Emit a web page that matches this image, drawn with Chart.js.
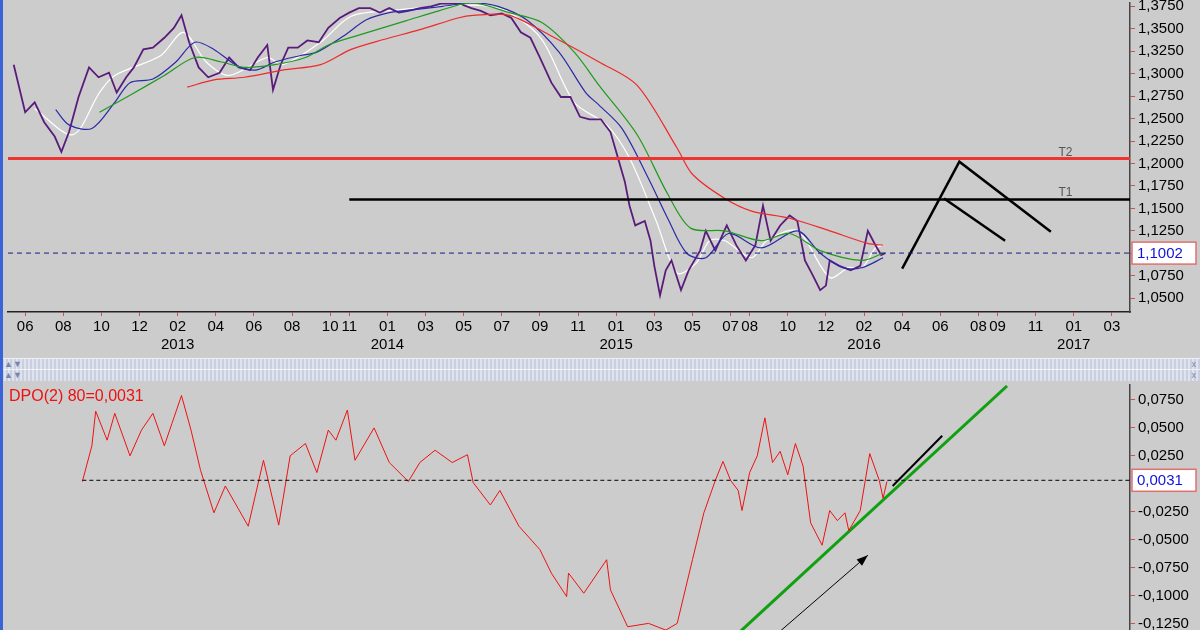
<!DOCTYPE html>
<html>
<head>
<meta charset="utf-8">
<script src="https://cdn.jsdelivr.net/npm/chart.js@4/dist/chart.umd.min.js"></script>
<style>
  body { margin: 0; width: 1200px; height: 630px; overflow: hidden; background: #cccccc; font-family: "Liberation Sans", Arial, sans-serif; position: relative; }
  #top { position: absolute; left: 0; top: -9px; width: 1200px; height: 367px; }
  #bottom { position: absolute; left: 0; top: 373px; width: 1200px; height: 273px; }
  .band { position: absolute; left: 0; width: 1200px; height: 11px; background: repeating-linear-gradient(90deg, #dfe3ee 0 2px, #c9cfe0 2px 4px); border-top: 1px solid #eef0f6; font-size: 9px; color: #7a86a8; line-height: 10px; z-index: 2; }
  .band span { position: absolute; left: 4px; }
  .band b { position: absolute; right: 4px; font-weight: normal; }
  #edge { position: absolute; left: 0; top: 0; width: 3px; height: 630px; background: #3b63d8; z-index: 3; }
</style>
</head>
<body>
<canvas id="top" width="1200" height="367"></canvas>
<canvas id="bottom" width="1200" height="273"></canvas>
<div class="band" style="top:358px"><span>▲▼</span><b>x</b></div>
<div class="band" style="top:369px"><span>▲▼</span><b>x</b></div>
<div id="edge"></div>
<script>
// x values are months counted from Jan 2012 (0 = Jan 2012)
const tickMonths = [5,7,9,11,13,15,17,19,21,22,24,26,28,30,32,34,36,38,40,42,43,45,47,49,51,53,55,56,58,60,62];
const tickLabels = ["06","08","10","12",["02","2013"],"04","06","08","10","11",["01","2014"],"03","05","07","09","11",
  ["01","2015"],"03","05","07","08","10","12",["02","2016"],"04","06","08","09","11",["01","2017"],"03"];
const priceTicks = [1.05,1.075,1.1,1.125,1.15,1.175,1.2,1.225,1.25,1.275,1.3,1.325,1.35,1.375];
const dpoTicks = [-0.125,-0.1,-0.075,-0.05,-0.025,0.025,0.05,0.075];

// EUR/USD closes
const priceM = [4.4,5.0,5.5,6.0,6.55,6.9,7.3,7.8,8.35,8.85,9.4,9.8,10.3,10.7,11.2,11.7,12.3,12.8,13.2,13.6,14.1,14.6,15.2,15.7,16.2,16.8,17.2,17.7,18.0,18.4,18.8,19.3,19.8,20.4,20.9,21.5,22.0,22.5,23.1,23.6,24.1,24.6,25.1,25.7,26.3,26.8,27.3,27.8,28.4,28.9,29.4,30.0,30.5,31.0,31.5,32.0,32.6,33.1,33.6,34.1,34.6,35.2,35.7,36.0,36.45,36.7,37.0,37.5,37.8,38.0,38.3,38.6,38.9,39.4,39.8,40.4,40.7,41.2,41.8,42.3,42.8,43.3,43.7,44.1,44.6,45.1,45.5,45.9,46.3,46.7,47.0,47.2,47.7,48.3,48.8,49.2,49.6,49.9,50.1];
const priceV = [1.310,1.257,1.268,1.246,1.230,1.213,1.235,1.274,1.307,1.296,1.301,1.279,1.296,1.307,1.327,1.329,1.340,1.351,1.365,1.335,1.307,1.296,1.301,1.318,1.307,1.304,1.318,1.332,1.282,1.310,1.329,1.329,1.337,1.335,1.351,1.362,1.368,1.373,1.373,1.368,1.373,1.368,1.370,1.373,1.375,1.378,1.378,1.378,1.373,1.370,1.365,1.367,1.362,1.346,1.340,1.318,1.290,1.274,1.274,1.252,1.249,1.249,1.235,1.213,1.180,1.153,1.131,1.136,1.114,1.086,1.053,1.081,1.092,1.059,1.081,1.103,1.125,1.103,1.131,1.109,1.092,1.109,1.153,1.114,1.131,1.142,1.136,1.092,1.076,1.059,1.064,1.092,1.086,1.081,1.086,1.125,1.109,1.098,1.100];

// moving averages
const whiteM = [5.5,7.5,8.9,9.7,12.1,13.3,14.5,15.7,17.7,18.5,20.5,22.1,24.5,26.9,28.9,30.4,32.1,33.8,35.5,36.7,38.1,39.2,40.2,40.9,41.7,43.1,43.9,45.5,47.2,48.2,48.9,49.6,50.0];
const whiteV = [1.261,1.232,1.279,1.298,1.320,1.346,1.313,1.298,1.318,1.310,1.335,1.364,1.371,1.375,1.376,1.368,1.338,1.268,1.243,1.206,1.136,1.078,1.089,1.114,1.114,1.095,1.114,1.125,1.073,1.084,1.084,1.106,1.109];
const blueM = [6.6,7.3,8.5,9.7,10.5,11.7,12.9,13.9,14.9,16.1,17.1,18.1,19.4,20.3,21.7,22.9,24.1,25.3,26.9,28.5,29.8,31.3,33.0,34.4,35.1,36.3,37.7,38.7,39.7,40.7,41.9,43.6,45.5,46.7,47.9,48.9,50.0];
const blueV = [1.260,1.243,1.239,1.268,1.290,1.294,1.313,1.335,1.327,1.309,1.304,1.313,1.320,1.324,1.342,1.360,1.368,1.371,1.375,1.379,1.375,1.360,1.324,1.279,1.265,1.239,1.183,1.139,1.100,1.095,1.122,1.106,1.125,1.100,1.084,1.084,1.095];
const greenM = [8.9,10.5,12.3,13.9,15.3,16.5,18.1,19.7,20.9,22.5,25.0,26.7,28.4,30.4,32.1,33.8,35.1,37.1,38.7,39.9,41.7,43.6,45.1,46.7,48.9,50.0];
const greenV = [1.257,1.276,1.298,1.318,1.313,1.307,1.310,1.318,1.332,1.343,1.359,1.370,1.379,1.368,1.357,1.324,1.287,1.232,1.166,1.128,1.125,1.114,1.122,1.103,1.092,1.100];
const redM = [13.5,14.9,16.5,18.5,20.5,22.1,23.8,25.7,27.7,28.5,30.4,32.6,35.1,37.1,39.2,40.0,41.7,43.1,45.1,47.2,49.2,50.0];
const redV = [1.285,1.293,1.296,1.304,1.310,1.327,1.338,1.349,1.362,1.365,1.365,1.342,1.313,1.287,1.217,1.188,1.161,1.147,1.139,1.125,1.111,1.109];

// levels and drawn projections
const t2Level = 1.2055;
const t1Level = 1.160;
const lastPrice = 1.1002;
const zigM = [51.0,54.0,58.8];
const zigV = [1.083,1.202,1.124];
const zig2M = [53.2,56.4];
const zig2V = [1.161,1.114];

// DPO(2) 80
const dpoM = [8.0,8.5,8.7,9.3,9.7,10.5,11.1,11.7,12.3,12.7,13.2,13.7,14.2,14.9,15.5,16.1,16.7,17.5,18.3,18.9,19.7,20.3,20.9,21.3,21.9,22.3,23.3,24.1,25.1,25.7,26.5,27.4,28.2,28.5,29.4,29.9,30.9,32.0,32.6,33.4,33.5,34.3,35.5,35.7,36.6,37.7,38.6,39.2,40.0,40.6,41.2,41.6,42.0,42.4,42.6,43.0,43.4,43.8,44.2,44.6,45.0,45.4,45.8,46.2,46.8,47.2,47.6,48.0,48.2,48.8,49.3,49.8,50.0,50.2];
const dpoV = [0.002,0.034,0.065,0.039,0.063,0.025,0.048,0.063,0.034,0.054,0.079,0.048,0.012,-0.026,-0.002,-0.020,-0.038,0.021,-0.037,0.025,0.036,0.010,0.048,0.039,0.066,0.021,0.050,0.019,0.002,0.019,0.030,0.019,0.026,0.001,-0.019,-0.006,-0.038,-0.059,-0.080,-0.101,-0.080,-0.098,-0.068,-0.095,-0.128,-0.125,-0.131,-0.125,-0.068,-0.026,0.003,0.020,0.003,-0.006,-0.024,0.010,0.025,0.059,0.019,0.029,0.008,0.036,0.016,-0.035,-0.055,-0.024,-0.033,-0.026,-0.042,-0.024,0.027,0.003,-0.013,0.002];
const dpoLast = 0.0031;
const trendM = [42.4,56.5];
const trendV = [-0.134,0.0875];
const shortM = [50.5,53.1];
const shortV = [-0.002,0.043];
const arrowM = [44.6,49.2];
const arrowV = [-0.132,-0.064];

const X_MIN = 4.1, X_MAX = 62.95;

function pts(ms, vs) {
  return ms.map((m, i) => ({ x: m, y: vs[i] }));
}
function lineSet(data, color, width, extra) {
  return Object.assign({ type: "line", data: data, borderColor: color, borderWidth: width, pointRadius: 0, tension: 0.3, fill: false }, extra || {});
}
function comma(v, d) {
  return v.toFixed(d).replace(".", ",");
}

// draws the value box on the right axis
function boxPlugin(value, text) {
  return {
    id: "valueBox",
    afterDraw(chart) {
      const ctx = chart.ctx;
      const y = chart.scales.y.getPixelForValue(value);
      const x = chart.chartArea.right + 2;
      ctx.save();
      ctx.fillStyle = "#ffffff";
      ctx.strokeStyle = "#e07070";
      ctx.lineWidth = 1.5;
      ctx.fillRect(x, y - 11, 64, 22);
      ctx.strokeRect(x, y - 11, 64, 22);
      ctx.fillStyle = "#1010e0";
      ctx.font = "15px 'Liberation Sans', Arial";
      ctx.textBaseline = "middle";
      ctx.fillText(text, x + 5, y + 1);
      ctx.restore();
    }
  };
}

const xAxisTop = {
  type: "linear", min: X_MIN, max: X_MAX,
  afterBuildTicks: (s) => { s.ticks = tickMonths.map(v => ({ value: v })); },
  afterFit: (s) => { s.height = 46; },
  ticks: {
    autoSkip: false, maxRotation: 0, color: "#000", padding: 2,
    font: { size: 15, family: "'Liberation Sans', Arial" },
    callback: (v, i) => tickLabels[i]
  },
  grid: { drawOnChartArea: false, tickColor: "#d05050", tickLength: 4 },
  border: { color: "#222", width: 1.5 }
};

function yAxis(ticks, min, max, dec) {
  return {
    position: "right", min: min, max: max,
    afterBuildTicks: (s) => { s.ticks = ticks.map(v => ({ value: v })); },
    afterFit: (s) => { s.width = 70; },
    ticks: { color: "#000", padding: 3, font: { size: 15, family: "'Liberation Sans', Arial" }, callback: (v) => comma(v, dec) },
    grid: { drawOnChartArea: false, tickColor: "#d05050", tickLength: 5 },
    border: { color: "#444", width: 1.5 }
  };
}

const notes = {
  id: "notes",
  afterDatasetsDraw(chart) {
    const ctx = chart.ctx;
    const xs = chart.scales.x, ys = chart.scales.y;
    ctx.save();
    ctx.fillStyle = "#555";
    ctx.font = "12px 'Liberation Sans', Arial";
    ctx.fillText("T2", xs.getPixelForValue(59.2), ys.getPixelForValue(t2Level) - 3);
    ctx.fillText("T1", xs.getPixelForValue(59.2), ys.getPixelForValue(t1Level) - 3);
    ctx.restore();
  }
};

new Chart(document.getElementById("top"), {
  data: {
    datasets: [
      lineSet([{ x: X_MIN, y: t2Level }, { x: X_MAX, y: t2Level }], "#ee3333", 3, { tension: 0 }),
      lineSet([{ x: 22.0, y: t1Level }, { x: X_MAX, y: t1Level }], "#000", 2.5, { tension: 0 }),
      lineSet([{ x: X_MIN, y: lastPrice }, { x: X_MAX, y: lastPrice }], "#1a1a80", 1, { tension: 0, borderDash: [5, 4] }),
      lineSet(pts(redM, redV), "#ee2a2a", 1.2),
      lineSet(pts(greenM, greenV), "#1f9a1f", 1.2),
      lineSet(pts(blueM, blueV), "#2a2aa8", 1.2),
      lineSet(pts(priceM, priceV), "#5a1c7a", 1.8, { tension: 0 }),
      lineSet(pts(whiteM, whiteV), "#ffffff", 1.2),
      lineSet(pts(zigM, zigV), "#000", 2.5, { tension: 0 }),
      lineSet(pts(zig2M, zig2V), "#000", 2.5, { tension: 0 })
    ]
  },
  options: {
    animation: false, responsive: false,
    layout: { padding: { left: 8, top: 0, right: 0, bottom: 0 } },
    plugins: { legend: { display: false }, tooltip: { enabled: false } },
    scales: { x: xAxisTop, y: yAxis(priceTicks, 1.0346, 1.3787, 4) }
  },
  plugins: [boxPlugin(lastPrice, "1,1002"), notes]
});

const arrowHead = {
  id: "arrowHead",
  afterDatasetsDraw(chart) {
    const ctx = chart.ctx;
    const xs = chart.scales.x, ys = chart.scales.y;
    const x0 = xs.getPixelForValue(arrowM[0]), y0 = ys.getPixelForValue(arrowV[0]);
    const x1 = xs.getPixelForValue(arrowM[1]), y1 = ys.getPixelForValue(arrowV[1]);
    const a = Math.atan2(y1 - y0, x1 - x0);
    ctx.save();
    ctx.fillStyle = "#000";
    ctx.beginPath();
    ctx.moveTo(x1, y1);
    ctx.lineTo(x1 - 12 * Math.cos(a - 0.35), y1 - 12 * Math.sin(a - 0.35));
    ctx.lineTo(x1 - 12 * Math.cos(a + 0.35), y1 - 12 * Math.sin(a + 0.35));
    ctx.closePath();
    ctx.fill();
    ctx.fillStyle = "#ee1111";
    ctx.font = "16px 'Liberation Sans', Arial";
    ctx.textBaseline = "top";
    ctx.fillText("DPO(2) 80=" + comma(dpoLast, 4), chart.chartArea.left + 1, chart.chartArea.top + 4);
    ctx.restore();
  }
};

new Chart(document.getElementById("bottom"), {
  data: {
    datasets: [
      lineSet([{ x: 8.0, y: dpoLast }, { x: X_MAX, y: dpoLast }], "#000", 1, { tension: 0, borderDash: [4, 3] }),
      lineSet(pts(dpoM, dpoV), "#ee1111", 1, { tension: 0 }),
      lineSet(pts(trendM, trendV), "#11a011", 3, { tension: 0 }),
      lineSet(pts(shortM, shortV), "#000", 2, { tension: 0 }),
      lineSet(pts(arrowM, arrowV), "#000", 1, { tension: 0 })
    ]
  },
  options: {
    animation: false, responsive: false,
    layout: { padding: { left: 8, top: 2, right: 0, bottom: 0 } },
    plugins: { legend: { display: false }, tooltip: { enabled: false } },
    scales: {
      x: { type: "linear", min: X_MIN, max: X_MAX, display: false },
      y: yAxis(dpoTicks, -0.1345, 0.0884, 4)
    }
  },
  plugins: [boxPlugin(dpoLast, "0,0031"), arrowHead]
});
</script>
</body>
</html>
